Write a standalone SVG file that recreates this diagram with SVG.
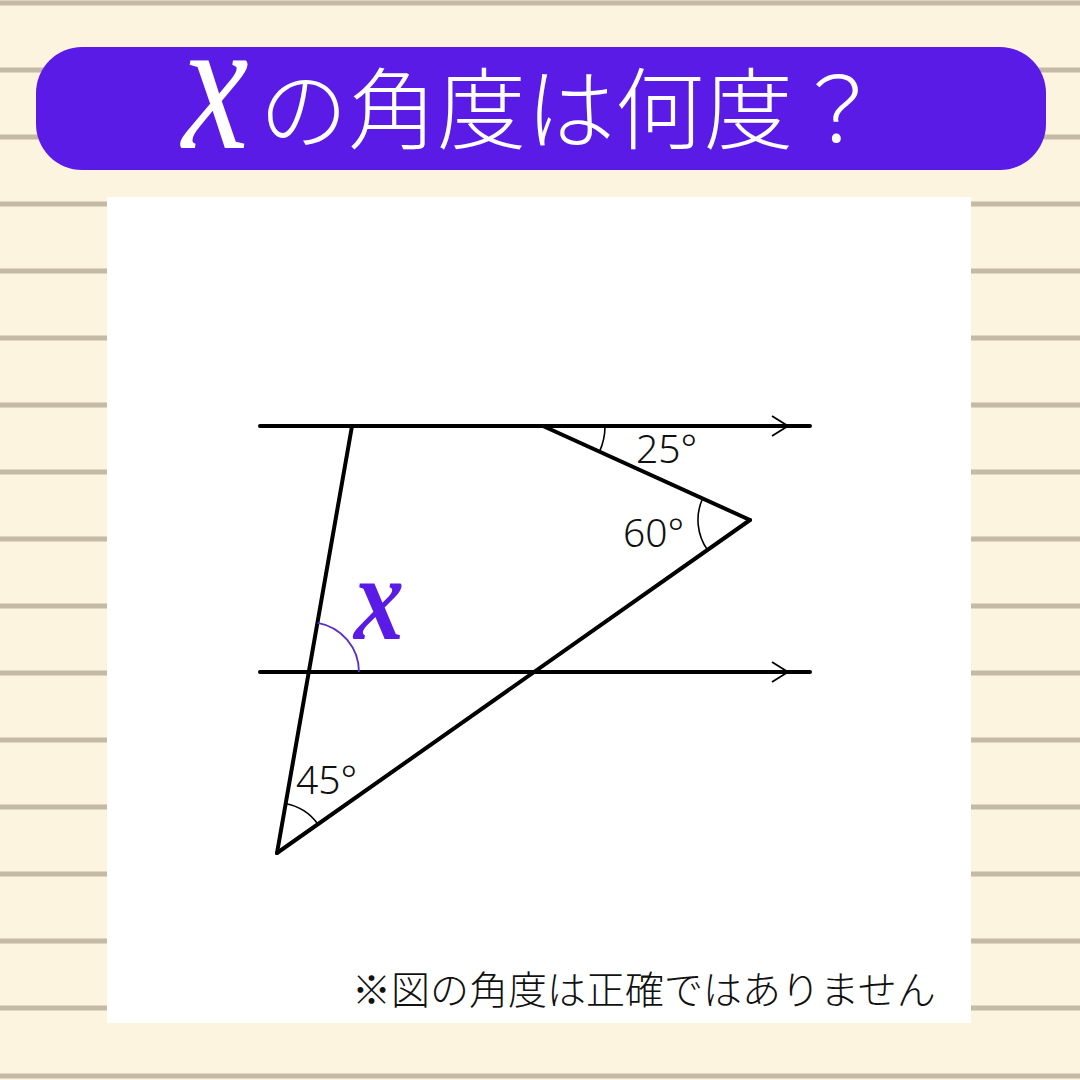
<svg xmlns="http://www.w3.org/2000/svg" width="1080" height="1080" viewBox="0 0 1080 1080">
<style>
.rule{stroke:#C4BAA6;stroke-width:5}
.ln{stroke:#000;stroke-width:4;fill:none;stroke-linecap:round}
.arc{stroke:#000;stroke-width:1.6;fill:none}
.chev{stroke:#000;stroke-width:1.8;fill:none}
.lab{font-family:"Noto Sans","Open Sans",sans-serif;font-weight:300;font-size:39px;fill:#111}
.jp{font-family:"Noto Sans CJK JP","Noto Sans",sans-serif;font-weight:300}
</style>
<rect width="1080" height="1080" fill="#FDF4DF"/>
<g id="rules">
<line class="rule" x1="0" x2="1080" y1="3" y2="3"/>
<line class="rule" x1="0" x2="1080" y1="70" y2="70"/>
<line class="rule" x1="0" x2="1080" y1="137" y2="137"/>
<line class="rule" x1="0" x2="1080" y1="204" y2="204"/>
<line class="rule" x1="0" x2="1080" y1="271" y2="271"/>
<line class="rule" x1="0" x2="1080" y1="338" y2="338"/>
<line class="rule" x1="0" x2="1080" y1="405" y2="405"/>
<line class="rule" x1="0" x2="1080" y1="472" y2="472"/>
<line class="rule" x1="0" x2="1080" y1="539" y2="539"/>
<line class="rule" x1="0" x2="1080" y1="606" y2="606"/>
<line class="rule" x1="0" x2="1080" y1="673" y2="673"/>
<line class="rule" x1="0" x2="1080" y1="740" y2="740"/>
<line class="rule" x1="0" x2="1080" y1="807" y2="807"/>
<line class="rule" x1="0" x2="1080" y1="874" y2="874"/>
<line class="rule" x1="0" x2="1080" y1="941" y2="941"/>
<line class="rule" x1="0" x2="1080" y1="1008" y2="1008"/>
<line class="rule" x1="0" x2="1080" y1="1076" y2="1076"/>
</g>
<g id="banner">
<rect x="36" y="47" width="1010" height="123" rx="46" fill="#5A1BE6"/>
<text transform="translate(182,148) scale(1,1.27)" font-family="'Liberation Serif',serif" font-style="italic" font-size="150" fill="#fff">x</text>
<text x="259" y="142" class="jp" font-size="89" fill="#fff">の角度は何度？</text>
</g>
<rect id="panel" x="107" y="197" width="864" height="826" fill="#fff"/>
<g id="connectors">
<line class="ln" x1="260" y1="426" x2="810" y2="426"/>
<polyline class="chev" points="772,416 788,426 772,436"/>
<line class="ln" x1="260" y1="672" x2="810" y2="672"/>
<polyline class="chev" points="772,662 788,672 772,682"/>
<line class="ln" x1="352" y1="426" x2="277" y2="853"/>
<line class="ln" x1="277" y1="853" x2="750" y2="520"/>
<line class="ln" x1="750" y1="520" x2="543" y2="426"/>
</g>
<g id="angle25">
<path class="arc" d="M605,426 A62,62 0 0 1 599.5,451.6"/>
<text class="lab" x="636" y="463">25°</text>
</g>
<g id="angle60">
<path class="arc" d="M702.6,498.5 A52,52 0 0 0 707.5,549.9"/>
<text class="lab" x="623" y="547">60°</text>
</g>
<g id="angle45">
<path class="arc" d="M285.6,803.7 A50,50 0 0 1 317.9,824.2"/>
<text class="lab" x="296" y="794">45°</text>
</g>
<g id="angleX">
<path d="M359,672 A50,50 0 0 0 317.6,622.8" fill="none" stroke="#5A2FC8" stroke-width="1.8"/>
<text transform="translate(354,639) scale(1,1.2)" font-family="'Liberation Serif',serif" font-style="italic" font-weight="bold" font-size="100" fill="#5A1BE6">x</text>
</g>
<text id="note" x="352" y="1004" class="jp" font-size="39" fill="#111">※図の角度は正確ではありません</text>
</svg>
